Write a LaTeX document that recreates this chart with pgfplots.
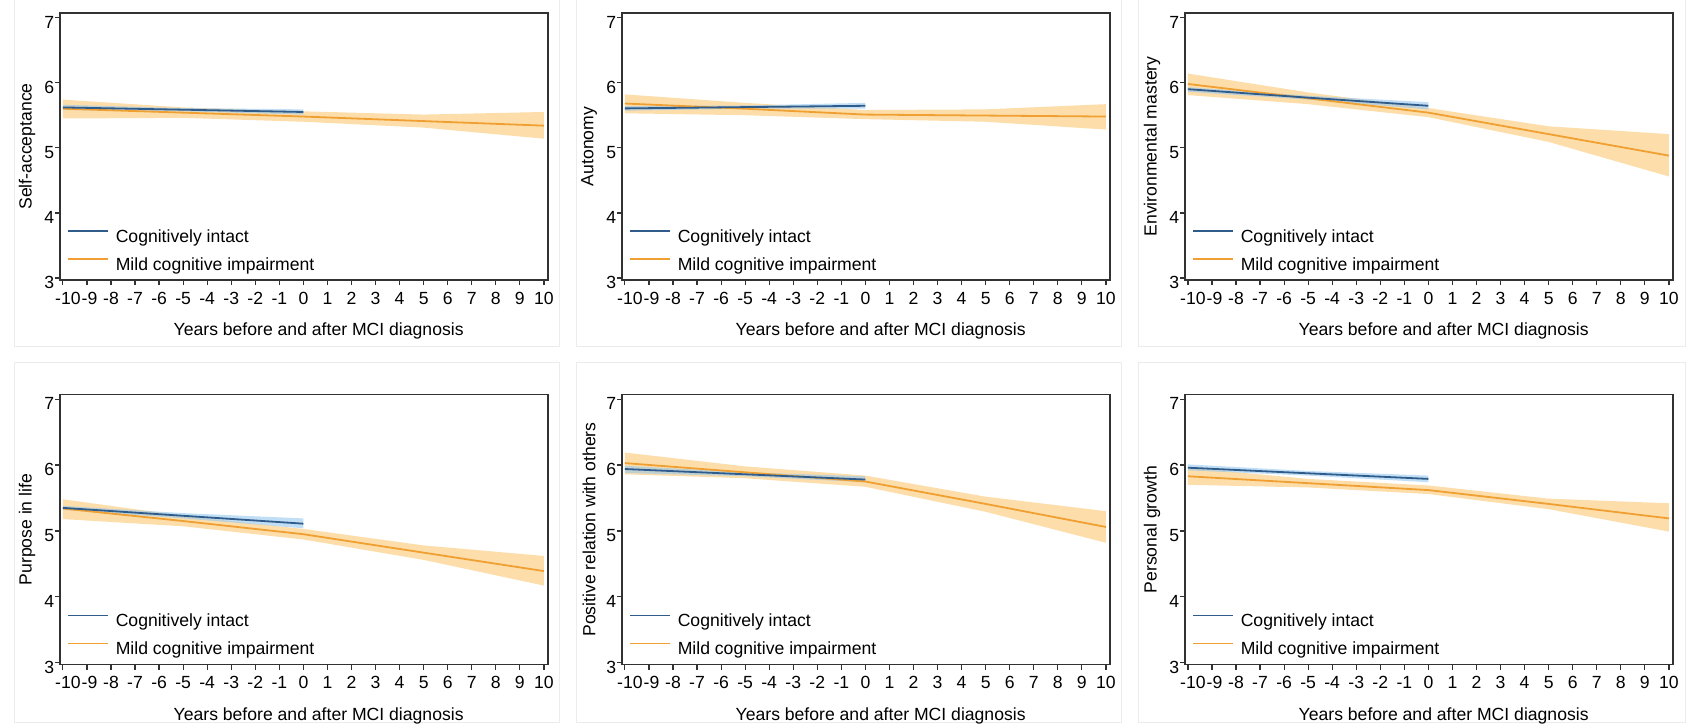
\documentclass[border=0pt]{standalone}
\usepackage{fontspec}
\setmainfont{Liberation Sans}
\usepackage{pgfplots}
\pgfplotsset{compat=1.18}
\definecolor{axgray}{RGB}{50,50,50}
\definecolor{framegray}{RGB}{236,236,236}
\definecolor{blueline}{RGB}{48,92,140}
\definecolor{blueband}{RGB}{150,200,240}
\definecolor{orangeline}{RGB}{240,160,50}
\definecolor{orangeband}{RGB}{253,205,125}
\newcommand\fs{\fontsize{8.8}{10.5}\selectfont}

\pgfplotsset{
 panel/.style={
  scale only axis, width=244pt, anchor=south west,
  xmin=-10.12, xmax=10.17, ymin=2.97, ymax=7.07,
  xtick={-10,-9,...,10}, ytick={3,4,5,6,7},
  xticklabels={\hspace*{5pt}-10,\hspace*{2.6pt}-9,-8,-7,-6,-5,-4,-3,-2,-1,0,1,2,3,4,5,6,7,8,9,10},
  tick pos=left, tick align=outside, major tick length=2.5pt,
  every tick/.append style={axgray, line width=0.6pt},
  axis line style={axgray, line width=0.7pt},
  tick label style={font=\fs, text=black},
  /pgf/number format/assume math mode=true,
  yticklabel style={inner xsep=1pt, xshift=0.8pt, yshift=-2.3pt},
  label style={font=\fs},
  xlabel={Years before and after MCI diagnosis},
  xlabel style={at={(axis description cs:0.53,-0.19)}, anchor=center},
  ylabel style={at={(axis description cs:-0.0676,0.5)}, anchor=center},
  legend style={draw=none, fill=none, font=\fs, at={(axis description cs:0.0143,0.0205)}, anchor=south west,
    row sep=5.4pt, column sep=3.5pt, inner sep=0pt,
    nodes={inner sep=0pt, text height=6.6pt, text depth=2pt}, cells={anchor=base west}},
  legend image code/.code={\draw[##1, line width=0.7pt] (0pt,5.5pt) -- (20pt,5.5pt);},
  reverse legend,
 }
}

% #1 x, #2 y, #3 ylabel, #4 orange band polygon, #5 blue band polygon, #6 orange line, #7 blue line, #8 height
\newcommand\panel[8]{%
\begin{axis}[panel, at={(#1,#2)}, height=#8, ylabel={#3}]
\addplot[fill=orangeband, fill opacity=0.65, draw=none, forget plot] coordinates {#4} -- cycle;
\addplot[fill=blueband, fill opacity=0.6, draw=none, forget plot] coordinates {#5} -- cycle;
\addplot[orangeline, line width=0.9pt] coordinates {#6};
\addlegendentry{Mild cognitive impairment}
\addplot[blueline, line width=0.9pt] coordinates {#7};
\addlegendentry{Cognitively intact}
\end{axis}}

\begin{document}
\begin{tikzpicture}
\fill[white] (0,0) rectangle (843pt,361.5pt);
\draw[framegray, line width=0.5pt] (7pt,188pt) rectangle (279.5pt,361.5pt);
\draw[framegray, line width=0.5pt] (288pt,188pt) rectangle (560.5pt,361.5pt);
\draw[framegray, line width=0.5pt] (569pt,188pt) rectangle (842.7pt,361.5pt);
\draw[framegray, line width=0.5pt] (7pt,0.3pt) rectangle (279.5pt,180pt);
\draw[framegray, line width=0.5pt] (288pt,0.3pt) rectangle (560.5pt,180pt);
\draw[framegray, line width=0.5pt] (569pt,0.3pt) rectangle (842.7pt,180pt);
% Self-acceptance
\panel{30pt}{221.5pt}{Self-acceptance}
{(-10,5.74) (-5,5.62) (0,5.56) (5,5.51) (10,5.55) (10,5.14) (5,5.31) (0,5.40) (-5,5.46) (-10,5.45)}
{(-10,5.66) (-5,5.61) (0,5.59) (0,5.51) (-5,5.56) (-10,5.58)}
{(-10,5.60) (-5,5.54) (0,5.48) (5,5.41) (10,5.34)}
{(-10,5.62) (-5,5.585) (0,5.55)}
{133.5pt}
% Autonomy
\panel{311pt}{221.5pt}{Autonomy}
{(-10,5.82) (-5,5.69) (0,5.58) (5,5.59) (10,5.67) (10,5.28) (5,5.40) (0,5.44) (-5,5.50) (-10,5.53)}
{(-10,5.64) (-5,5.65) (0,5.69) (0,5.60) (-5,5.60) (-10,5.57)}
{(-10,5.68) (-5,5.60) (0,5.51) (5,5.495) (10,5.48)}
{(-10,5.605) (-5,5.625) (0,5.645)}
{133.5pt}
% Environmental mastery
\panel{592.5pt}{221.5pt}{Environmental mastery}
{(-10,6.14) (-5,5.85) (0,5.61) (5,5.33) (10,5.21) (10,4.56) (5,5.09) (0,5.47) (-5,5.67) (-10,5.81)}
{(-10,5.93) (-5,5.80) (0,5.70) (0,5.59) (-5,5.74) (-10,5.86)}
{(-10,5.98) (-5,5.76) (0,5.54) (5,5.21) (10,4.88)}
{(-10,5.90) (-5,5.77) (0,5.645)}
{133.5pt}
% Purpose in life
\panel{30pt}{29.2pt}{Purpose in life}
{(-10,5.48) (-5,5.23) (0,5.03) (5,4.78) (10,4.62) (10,4.17) (5,4.56) (0,4.87) (-5,5.07) (-10,5.18)}
{(-10,5.38) (-5,5.27) (0,5.19) (0,5.04) (-5,5.19) (-10,5.32)}
{(-10,5.34) (-5,5.15) (0,4.95) (5,4.67) (10,4.39)}
{(-10,5.35) (-5,5.23) (0,5.11)}
{135pt}
% Positive relation with others
\panel{311pt}{29.2pt}{Positive relation with others}
{(-10,6.19) (-5,5.98) (0,5.84) (5,5.52) (10,5.30) (10,4.82) (5,5.29) (0,5.67) (-5,5.80) (-10,5.86)}
{(-10,5.99) (-5,5.89) (0,5.83) (0,5.74) (-5,5.83) (-10,5.88)}
{(-10,6.03) (-5,5.89) (0,5.75) (5,5.41) (10,5.06)}
{(-10,5.94) (-5,5.86) (0,5.78)}
{135pt}
% Personal growth
\panel{592.5pt}{29.2pt}{Personal growth}
{(-10,5.96) (-5,5.79) (0,5.69) (5,5.49) (10,5.42) (10,4.99) (5,5.33) (0,5.56) (-5,5.66) (-10,5.70)}
{(-10,6.01) (-5,5.91) (0,5.84) (0,5.74) (-5,5.84) (-10,5.92)}
{(-10,5.83) (-5,5.725) (0,5.62) (5,5.41) (10,5.19)}
{(-10,5.96) (-5,5.875) (0,5.79)}
{135pt}
\pgfresetboundingbox
\useasboundingbox (0,0) rectangle (843pt,361.5pt);
\end{tikzpicture}
\end{document}
